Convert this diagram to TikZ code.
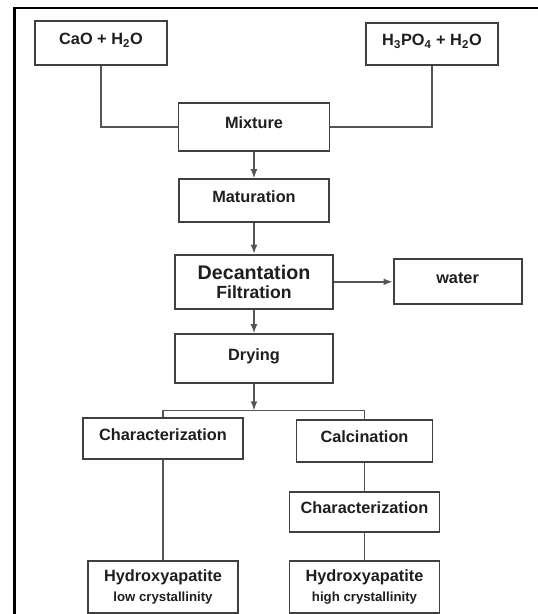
\documentclass[tikz,border=0pt]{standalone}
\usepackage{fontspec}
\setmainfont{Liberation Sans}
\usetikzlibrary{arrows.meta,positioning}
\definecolor{boxline}{RGB}{64,64,64}
\definecolor{linkline}{RGB}{85,85,85}
\definecolor{inkcolor}{RGB}{30,30,30}
\tikzset{
  proc/.style={rectangle, draw=boxline, line width=0.45mm, fill=white, align=center,
    font=\fontsize{11.6}{13}\selectfont\bfseries, text=inkcolor, inner sep=1pt},
  procup/.style={proc, text depth=2mm},
  link/.style={draw=linkline, line width=0.35mm},
  myarrow/.style={link, -{Latex[length=2.3mm,width=1.7mm]}},
  frameline/.style={line width=0.6mm, black},
}
\begin{document}
\begin{tikzpicture}[x=0.25mm, y=-0.25mm]
\useasboundingbox (0,0) rectangle (538,614);

% frame
\draw[frameline] (14.5,614) -- (14.5,8) -- (538,8);

% inputs
\node[procup, minimum width=33mm, minimum height=11mm] (CaO) at (101,43) {CaO + H\textsubscript{2}O};
\node[procup, minimum width=32.9mm, minimum height=10.5mm] (Acid) at (432,44) {H\textsubscript{3}PO\textsubscript{4} + H\textsubscript{2}O};

% main line
\node[procup, minimum width=37.75mm, minimum height=12mm] (Mix) at (254,127) {Mixture};
\node[procup, minimum width=37.5mm, minimum height=10.75mm, below=6.6mm of Mix] (Mat) {Maturation};
\node[proc, minimum width=39.5mm, minimum height=13.5mm, below=7.7mm of Mat] (Dec)
  {{\fontsize{14}{15}\selectfont Decantation}\\[1pt]{\fontsize{12.5}{14}\selectfont Filtration}};
\node[procup, minimum width=32mm, minimum height=11.25mm, right=14.7mm of Dec] (Water) {water};
\node[procup, minimum width=39.5mm, minimum height=12.25mm, below=5.9mm of Dec] (Dry) {Drying};
\coordinate[below=6.6mm of Dry] (Split);

% branches
\node[procup, minimum width=40.15mm, minimum height=10.25mm] (CharA) at (163,438.5) {Characterization};
\node[procup, minimum width=34mm, minimum height=10.5mm] (Calc) at (364.5,440.7) {Calcination};
\node[procup, minimum width=37.5mm, minimum height=10mm, below=7.05mm of Calc] (CharB) {Characterization};
\node[proc, minimum width=37.5mm, minimum height=13mm, below=6.9mm of CharB] (HydB)
  {Hydroxyapatite\\[1pt]{\fontsize{9.4}{11}\selectfont high crystallinity}};
\node[proc, minimum width=37.5mm, minimum height=13mm] (HydA) at (HydB -| CharA)
  {Hydroxyapatite\\[1pt]{\fontsize{9.4}{11}\selectfont low crystallinity}};

\draw[link] (CaO) |- (Mix);
\draw[link] (Acid) |- (Mix);
\draw[myarrow] (Mix) -- (Mat);
\draw[myarrow] (Mat) -- (Dec);
\draw[myarrow] (Dec) -- (Water);
\draw[myarrow] (Dec) -- (Dry);
\draw[myarrow] (Dry) -- (Split);
\draw[link] (CharA) |- (Split) -| (Calc);
\draw[link] (CharA) -- (HydA);
\draw[link] (Calc) -- (CharB);
\draw[link] (CharB) -- (HydB);

\end{tikzpicture}
\end{document}
